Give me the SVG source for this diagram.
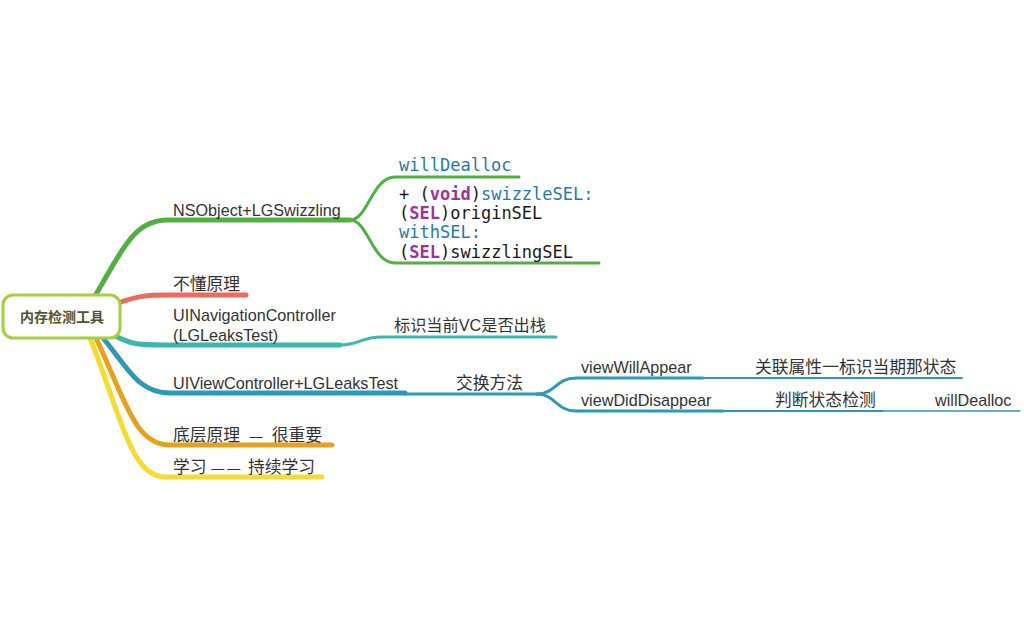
<svg xmlns="http://www.w3.org/2000/svg" width="1024" height="633" viewBox="0 0 1024 633">
<style>
.t{font-family:"Liberation Sans","Noto Sans CJK SC",sans-serif;font-size:16.2px;fill:#333;white-space:pre}
.z{font-size:16.8px}
.c{font-family:"DejaVu Sans Mono","Liberation Mono",monospace;font-size:17px;fill:#1a1a1a}
.k{fill:#a0329a;font-weight:bold}
.b{fill:#1f7ca8}
.ln{fill:none;stroke-linecap:round}
</style>
<rect width="1024" height="633" fill="#fff"/>
<g id="connectors">
<path class="ln" d="M95,296 C125,245 135,220 168,220 H350" stroke="#52b043" stroke-width="5"/>
<path class="ln" d="M350,220 C368,220 372,177 395,177 H519" stroke="#52b043" stroke-width="3"/>
<path class="ln" d="M350,220 C368,220 372,263 395,263 H599" stroke="#52b043" stroke-width="3"/>
<path class="ln" d="M118,303 C138,296 145,295 170,295 H246" stroke="#ec6a5e" stroke-width="5"/>
<path class="ln" d="M110,333 C130,345 140,345 165,345 H340" stroke="#3bb8ad" stroke-width="5"/>
<path class="ln" d="M340,345 C360,345 360,337 382,337 H556" stroke="#3bb8ad" stroke-width="3"/>
<path class="ln" d="M103,338 C128,368 138,393 170,393 H405" stroke="#2b9ab8" stroke-width="5"/>
<path class="ln" d="M405,394 H537" stroke="#2b9ab8" stroke-width="3"/>
<path class="ln" d="M537,394 C555,394 556,378 576,378 H703" stroke="#2b9ab8" stroke-width="3"/>
<path class="ln" d="M537,394 C555,394 556,411 576,411 H723" stroke="#2b9ab8" stroke-width="3"/>
<path class="ln" d="M703,378 H962" stroke="#2b9ab8" stroke-width="2"/>
<path class="ln" d="M723,411 H882" stroke="#2b9ab8" stroke-width="2"/>
<path class="ln" d="M882,411 H1020" stroke="#2b9ab8" stroke-width="1.5"/>
<path class="ln" d="M96,338 C126,402 135,445 170,445 H332" stroke="#e8a21a" stroke-width="5"/>
<path class="ln" d="M90,338 C120,412 130,477 165,477 H322" stroke="#f5dc2e" stroke-width="5"/>
</g>
<g id="root">
<rect x="3" y="295" width="117" height="43" rx="10" fill="#fff" stroke="#a6cf3c" stroke-width="3"/>
<text x="62" y="322" text-anchor="middle" style="font-family:'Noto Sans CJK SC',sans-serif;font-size:14px;font-weight:bold;fill:#4d5530">内存检测工具</text>
</g>
<g id="n-nsobject"><text class="t" x="173" y="216">NSObject+LGSwizzling</text></g>
<g id="n-willdealloc1"><text class="c b" x="399" y="171">willDealloc</text></g>
<g id="n-swizzle">
<text class="c" x="399" y="200">+ (<tspan class="k">void</tspan>)<tspan class="b">swizzleSEL:</tspan></text>
<text class="c" x="399" y="219">(<tspan class="k">SEL</tspan>)originSEL</text>
<text class="c" x="399" y="238"><tspan class="b">withSEL:</tspan></text>
<text class="c" x="399" y="258">(<tspan class="k">SEL</tspan>)swizzlingSEL</text>
</g>
<g id="n-budong"><text class="t z" x="173" y="290">不懂原理</text></g>
<g id="n-uinav">
<text class="t" x="173" y="321">UINavigationController</text>
<text class="t" x="173" y="341">(LGLeaksTest)</text>
</g>
<g id="n-biaoshi"><text class="t" x="394" y="331">标识当前VC是否出栈</text></g>
<g id="n-uivc"><text class="t" x="173" y="389">UIViewController+LGLeaksTest</text></g>
<g id="n-jiaohuan"><text class="t z" x="456" y="389">交换方法</text></g>
<g id="n-vwa"><text class="t" x="581" y="373">viewWillAppear</text></g>
<g id="n-guanlian"><text class="t z" x="755" y="373">关联属性一标识当期那状态</text></g>
<g id="n-vdd"><text class="t" x="581" y="406">viewDidDisappear</text></g>
<g id="n-panduan"><text class="t z" x="775" y="406">判断状态检测</text></g>
<g id="n-willdealloc2"><text class="t" x="935" y="406">willDealloc</text></g>
<g id="n-diceng"><text class="t z" x="173" y="441">底层原理  <tspan style="font-size:13px">—</tspan>  很重要</text></g>
<g id="n-xuexi"><text class="t z" x="173" y="473">学习 <tspan style="font-size:13px;letter-spacing:3px">——</tspan> 持续学习</text></g>
</svg>
